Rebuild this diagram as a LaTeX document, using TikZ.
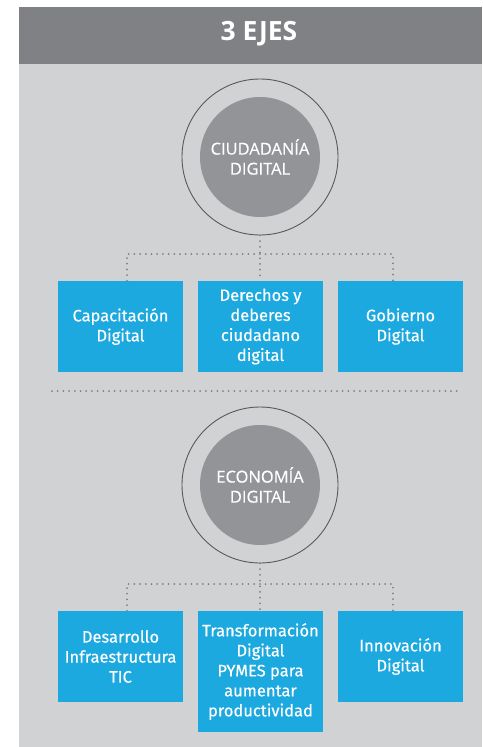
\documentclass[tikz,border=0pt]{standalone}
\usepackage{fontspec}
\setmainfont{Open Sans}
\newfontfamily\temafont{Fira Sans}[FakeBold=0.4]
\newfontfamily\ejefont{Open Sans}[FakeBold=0.3]
\definecolor{headgray}{HTML}{808184}
\definecolor{panelgray}{HTML}{D1D2D4}
\definecolor{circgray}{HTML}{929497}
\definecolor{ringgray}{HTML}{58595B}
\definecolor{dotgray}{HTML}{808184}
\definecolor{ejeblue}{HTML}{1BA9E0}

\begin{document}
\begin{tikzpicture}[x=1pt,y=-1pt,
  ring/.style={circle,draw=ringgray,line width=0.9pt,minimum size=156pt,inner sep=0pt},
  eje/.style={circle,fill=circgray,minimum size=120pt,inner sep=0pt,text=white,align=center,font=\ejefont\fontsize{16.5}{20}\selectfont},
  tema/.style={fill=ejeblue,text=white,minimum width=125pt,minimum height=91pt,inner sep=0pt,align=center,font=\temafont\fontsize{16.5}{20}\selectfont},
  punteado/.style={draw=dotgray,line width=2pt,line cap=round,dash pattern=on 0pt off 5.7pt}]
\useasboundingbox (0,0) rectangle (482,747);
\fill[panelgray] (19,64) rectangle (482,747);
\fill[headgray] (19,7) rectangle (482,64);
\node[text=white,font=\bfseries\fontsize{26.5}{30}\selectfont] (titulo) at (259,34) {3 EJES};
% ciudadania digital
  \node[ring] (ring1) at (260,157) {};
  \node[eje] (eje1) at (260,157) {CIUDADANÍA\\DIGITAL};
  \node[tema] (tema11) at (120.5,326.5) {Capacitación\\Digital};
  \node[tema] (tema12) at (260.5,326.5) {Derechos y\\deberes\\ciudadano\\digital};
  \node[tema] (tema13) at (400.5,326.5) {Gobierno\\Digital};
  \coordinate (rama11) at (127,254);
  \coordinate (rama13) at (393,254);
  \draw[punteado] (ring1.south) -- (ring1.south |- tema12.north);
  \draw[punteado] (rama11 |- tema11.north) -- (rama11) -- (rama13) -- (rama13 |- tema13.north);
\draw[punteado] (52,391) -- (462,391);
% economia digital
  \node[ring] (ring2) at (260,485) {};
  \node[eje] (eje2) at (260,485) {ECONOMÍA\\DIGITAL};
  \node[tema] (tema21) at (120.5,656.5) {Desarrollo\\Infraestructura\\TIC};
  \node[tema,minimum height=121pt] (tema22) at (260.5,671.5) {Transformación\\Digital\\PYMES para\\aumentar\\productividad};
  \node[tema] (tema23) at (400.5,656.5) {Innovación\\Digital};
  \coordinate (rama21) at (127,584);
  \coordinate (rama23) at (393,584);
  \draw[punteado] (ring2.south) -- (ring2.south |- tema22.north);
  \draw[punteado] (rama21 |- tema21.north) -- (rama21) -- (rama23) -- (rama23 |- tema23.north);
\end{tikzpicture}
\end{document}
